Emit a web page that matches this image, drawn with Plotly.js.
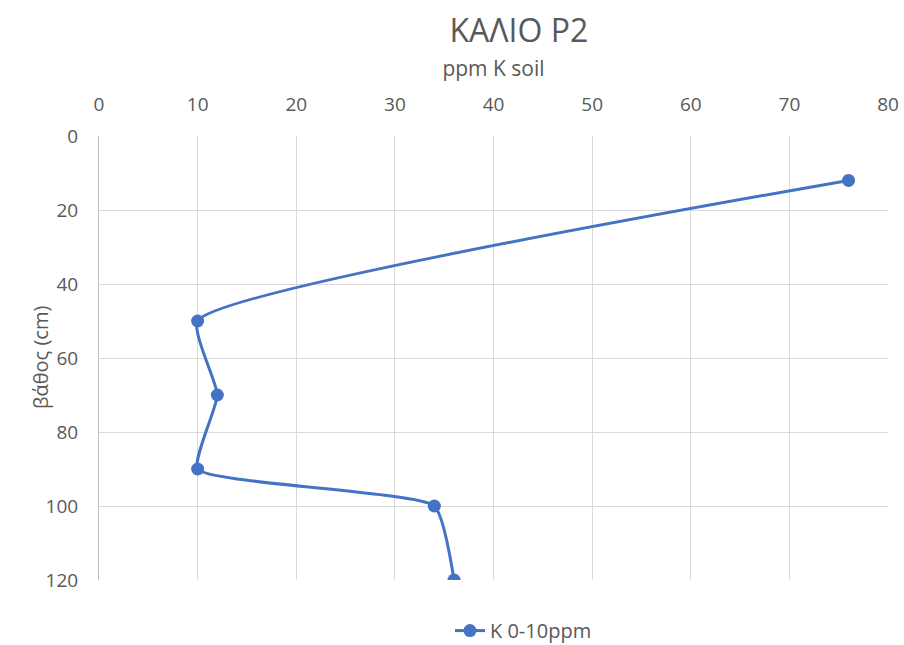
<!DOCTYPE html>
<html>
<head>
<meta charset="utf-8">
<script src="https://cdn.plot.ly/plotly-3.0.1.min.js"></script>
<style>html,body{margin:0;padding:0;background:#fff}#chart{width:904px;height:645px}</style>
</head>
<body>
<div id="chart"></div>
<script>
const potassium = [76, 10, 12, 10, 34, 36];
const depth = [12, 50, 70, 90, 100, 120];
const seriesName = "K 0-10ppm";
const chartTitle = "ΚΑΛΙΟ P2";
const xTitle = "ppm K soil";
const yTitle = "βάθος (cm)";

const font = "Open Sans, sans-serif";
const grey = "#595959";

const trace = {
  x: potassium, y: depth, name: seriesName,
  type: "scatter", mode: "lines+markers",
  line: {color: "#4472C4", width: 3, shape: "spline", smoothing: 0.45},
  marker: {color: "#4472C4", size: 13}
};

const layout = {
  width: 904, height: 645,
  margin: {l: 99, r: 16, t: 136, b: 65, autoexpand: false},
  paper_bgcolor: "#fff", plot_bgcolor: "#fff",
  font: {family: font, color: grey, size: 19},
  title: {text: chartTitle, font: {size: 32, color: grey, family: font}, x: 0.574, xanchor: "center", y: 0.953, yanchor: "middle"},
  showlegend: true,
  legend: {orientation: "h", x: 0.538, xanchor: "center", y: -0.07, yanchor: "top", font: {size: 20, color: grey}},
  xaxis: {
    side: "top", range: [0, 80], dtick: 10, tick0: 0,
    showgrid: true, gridcolor: "#d9d9d9", gridwidth: 1,
    zeroline: false, showline: false,
    ticks: "outside", ticklen: 16, tickcolor: "rgba(0,0,0,0)",
    tickfont: {size: 19, color: grey},
    title: {text: xTitle, font: {size: 21, color: grey}, standoff: 9}
  },
  yaxis: {
    range: [120, 0], dtick: 20, tick0: 0,
    showgrid: true, gridcolor: "#d9d9d9", gridwidth: 1,
    zeroline: false, showline: true, linecolor: "#bfbfbf", linewidth: 1,
    ticks: "outside", ticklen: 16, tickcolor: "rgba(0,0,0,0)",
    tickfont: {size: 19, color: grey}
  },
  annotations: [{
    text: yTitle, textangle: -90, showarrow: false,
    xref: "paper", yref: "paper", x: 0, y: 0.5,
    xanchor: "center", yanchor: "middle", xshift: -59,
    font: {size: 20, color: grey, family: font}
  }]
};

Plotly.newPlot("chart", [trace], layout, {displayModeBar: false, staticPlot: true});
</script>
</body>
</html>
